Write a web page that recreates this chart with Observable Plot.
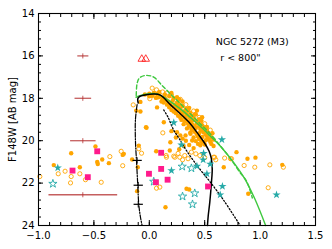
<!DOCTYPE html>
<html><head><meta charset="utf-8">
<script src="https://cdn.jsdelivr.net/npm/d3@7"></script>
<script src="https://cdn.jsdelivr.net/npm/@observablehq/plot@0.6"></script>
<style>body{margin:0;background:#fff} #chart svg{font-family:"DejaVu Sans",sans-serif}</style>
</head><body><div id="chart"></div><script>
// ---- data (color, magnitude) ----
const orangeFilled = [
  [-0.705,20.59],[-0.486,20.27],[-0.425,20.89],[-0.47,21.0],[-0.465,21.1],[-0.365,21.06],[-0.24,20.67],[-0.862,21.15],[-0.627,21.25],
  [-0.155,20.89],[-0.095,20.23],[-0.23,20.62],[-0.104,21.25],[-0.11,22.38],[-0.03,19.36],[-0.118,18.58],[-0.08,18.62],[-0.025,19.39],[-0.08,18.17],
  [-0.04,17.82],[0.0,17.78],[0.04,17.75],[0.07,17.8],
  [0.06,17.98],[0.1,17.92],[0.14,17.97],[0.18,17.9],[0.12,18.05],
  [0.13,18.2],[0.17,18.15],[0.21,18.12],[0.25,18.22],[0.19,18.25],
  [0.18,18.42],[0.22,18.38],[0.26,18.4],[0.3,18.35],[0.24,18.5],
  [0.22,18.62],[0.27,18.58],[0.31,18.62],[0.35,18.55],[0.29,18.7],
  [0.26,18.82],[0.3,18.8],[0.34,18.78],[0.38,18.82],[0.41,18.76],[0.32,18.9],
  [0.29,19.02],[0.33,19.0],[0.37,18.97],[0.41,19.03],[0.45,18.98],[0.35,19.1],
  [0.31,19.22],[0.35,19.2],[0.39,19.25],[0.43,19.18],[0.47,19.22],[0.41,19.32],
  [0.34,19.42],[0.38,19.45],[0.42,19.4],[0.46,19.45],[0.5,19.38],
  [0.37,19.62],[0.41,19.58],[0.45,19.65],[0.49,19.6],[0.53,19.62],
  [0.4,19.85],[0.44,19.8],[0.48,19.82],[0.52,19.78],[0.56,19.85],
  [0.42,20.02],[0.47,20.05],[0.51,19.98],[0.55,20.05],
  [0.46,20.22],[0.5,20.18],[0.58,20.25],
  [0.2,17.75],[0.25,17.95],[0.3,18.15],[0.36,18.45],[0.42,18.75],[0.47,19.05],[0.52,19.35],[0.57,19.65],
  [0.0,17.9],[0.08,17.95],[0.15,18.08],[0.23,18.3],[0.27,18.28],[0.33,18.5],[0.28,18.48],[0.24,18.7],[0.33,18.68],[0.37,18.68],
  [0.28,18.92],[0.36,18.88],[0.4,18.92],[0.44,19.1],[0.32,19.1],[0.38,19.12],[0.48,19.3],[0.36,19.32],[0.45,19.32],[0.39,19.5],
  [0.47,19.52],[0.52,19.5],[0.43,19.7],[0.51,19.7],[0.55,19.72],[0.45,19.92],[0.53,19.92],[0.58,19.95],[0.49,20.1],[0.56,20.15],
  [0.2,18.55],[0.16,18.3],[0.11,18.15],[0.03,17.88],[0.09,17.7],[0.14,17.82],[0.22,18.0],[0.27,18.05],
  [0.28,19.75],[0.33,20.0],[0.36,20.2],[0.4,20.35],[0.31,20.25],[0.24,19.85],[0.2,19.55],[0.27,20.4],
  [0.131,19.13],[0.19,20.07],[0.07,18.43],[0.327,19.75],[0.372,19.67],[0.387,19.99],[0.447,19.83],[0.25,19.6],[0.3,19.9],
  [0.062,20.5],[0.185,20.46],[0.44,20.15],[0.43,18.58],[0.477,18.89],
  [0.787,20.54],[0.958,20.8],[0.886,20.85],[1.2,21.14],[0.672,21.25],[0.893,22.5],
  [0.336,22.27],[0.36,22.3],[0.146,23.14]
];
const orangeOpen = [
  [-0.356,20.75],[-0.254,20.5],[-0.24,21.18],[-0.822,21.56],[-0.76,21.44],[-0.627,21.56],[-0.705,21.69],[-0.576,21.84],[-0.711,21.99],[-0.434,21.96],[-0.988,21.69],
  [-0.07,20.59],[-0.095,20.38],[-0.145,18.31],[0.026,17.52],[0.065,17.6],[0.005,18.02],[0.122,19.63],[0.095,22.19],[0.065,22.24],
  [0.152,20.7],[0.221,20.73],[0.155,20.78],[0.23,20.78],[0.275,20.78],[0.32,20.7],[0.35,20.85],[0.38,20.54],[0.456,20.7],[0.59,20.78],[0.6,20.9],[0.26,20.6],[0.42,20.62],[0.5,20.8],[0.3,20.9],
  [0.742,20.85],[0.856,21.17],[0.952,21.25],[1.088,21.14],[1.21,21.25],[1.073,22.22],[0.567,19.91],[0.58,20.78],[0.68,20.82],[0.733,20.85],
  [0.16,17.75],[0.2,17.85],[0.12,17.7],[0.28,18.05],[0.35,18.5],[0.4,18.6],[0.45,18.9],[0.5,19.2],[0.55,19.5],[0.33,18.3],[0.24,18.05]
];
const starsFilled = [[-0.826,21.28],[0.221,19.15],[0.29,20.2],[0.49,20.6],[0.655,19.95],[0.2,21.41],[0.43,21.2],[0.55,21.1],[0.52,21.56],[0.66,22.15],[0.64,22.55],[1.148,22.55],[0.486,20.9]];
const starsOpen = [[-0.87,22.03],[0.297,21.22],[0.38,21.3],[0.04,21.93],[0.3,22.63],[0.41,22.48],[0.39,23.0]];
const squares = [[-0.47,20.5],[-0.693,21.41],[-0.555,21.72],[0.107,20.57],[0.107,21.33],[-0.003,21.56],[0.06,21.96],[0.165,21.84],[0.53,22.16]];
const triangles = [[-0.068,16.15],[-0.032,16.15]];
// photometric error bars
const errRedX = [-0.6,-0.6,-0.6,-0.6];
const errRedY = [16,18,20,22.55];
const errRedXerr = [0.05,0.075,0.115,0.31];
const errBlkX = [-0.11,-0.1,-0.1];
const errBlkY = [20.93,22.1,23.0];
const errBlkXerr = [0.042,0.042,0.042];
// model curves
const isoSolid = [[-0.1,18.22],[-0.1,17.97],[0.04,17.8],[0.1,17.85],[0.19,18.3],[0.28,18.73],[0.37,19.2],[0.44,19.68],[0.5,20.12],[0.54,20.5],[0.56,20.85],[0.568,21.33],[0.561,21.96],[0.546,22.9],[0.532,23.53],[0.525,24.0]];
const isoDotted = [[0.13,18.55],[0.17,18.9],[0.22,19.5],[0.27,19.9],[0.34,20.5],[0.45,21.3],[0.55,21.95],[0.67,22.8],[0.82,24.0]];
const isoDashDot = [[-0.11,18.3],[-0.125,19.0],[-0.125,20.0],[-0.115,21.0],[-0.105,22.0],[-0.095,23.0],[-0.08,23.6],[-0.065,24.0]];
const greenSolid = [[-0.12,17.95],[-0.07,17.85],[0.0,17.78],[0.07,17.79],[0.14,17.98],[0.22,18.26],[0.3,18.58],[0.37,18.9],[0.456,19.3],[0.55,19.78],[0.636,20.23],[0.757,21.0],[0.862,21.8],[0.952,22.74],[1.05,24.0]];
const greenDashed = [[-0.118,17.87],[-0.11,17.3],[-0.09,17.05],[-0.034,16.92],[0.04,17.0],[0.116,17.4],[0.19,17.79],[0.28,18.25],[0.37,18.73],[0.45,19.15],[0.537,19.6],[0.65,20.3],[0.74,20.9],[0.817,21.49],[0.877,21.9],[0.93,22.7]];
const xMajor = [-1.0,-0.5,0.0,0.5,1.0,1.5];
const xMinor = d3.range(-10,16).map(i => i/10);
const yMajor = [14,16,18,20,22,24];
const yMinor = d3.range(0,26).map(i => 14 + i*0.4);
const annot = ["NGC 5272 (M3)", "r < 800\""];

const errRed = errRedX.map((x,i)=>({x, y: errRedY[i], e: errRedXerr[i]}));
const errBlk = errBlkX.map((x,i)=>({x, y: errBlkY[i], e: errBlkXerr[i]}));
const fmtX = d => d3.format(".1f")(d).replace("-", "\u2212");

const orange = "#ffa500", cyan = "#26aaa8", pink = "#ff1a8c", green = "#3ec83e";
const chart = Plot.plot({
  width: 332, height: 249,
  marginLeft: 38, marginRight: 17, marginTop: 13, marginBottom: 24,
  style: {fontSize: "10px", fontFamily: "DejaVu Sans, sans-serif", color: "#000"},
  x: {domain: [-1.0, 1.5]},
  y: {domain: [24, 14]},
  marks: [
    Plot.link(errRed, {x1: d=>d.x-d.e, x2: d=>d.x+d.e, y1: "y", y2: "y", stroke: "#b22a2a", strokeOpacity: 0.75, strokeWidth: 1.3}),
    Plot.link(errRed, {x1: "x", x2: "x", y1: d=>d.y-0.12, y2: d=>d.y+0.12, stroke: "#b22a2a", strokeOpacity: 0.75, strokeWidth: 1}),
    Plot.dot(triangles, {x: d=>d[0], y: d=>d[1], symbol: "triangle", r: 2.8, stroke: "#ff2020", strokeWidth: 0.9, fill: "none"}),
    Plot.dot(orangeOpen, {x: d=>d[0], y: d=>d[1], r: 2.1, stroke: orange, strokeWidth: 0.9, fill: "none"}),
    Plot.dot(orangeFilled, {x: d=>d[0], y: d=>d[1], r: 2.2, fill: orange}),
    Plot.line(greenDashed, {x: d=>d[0], y: d=>d[1], stroke: green, strokeWidth: 1.4, strokeDasharray: "4,2.5", curve: "catmull-rom"}),
    Plot.line(greenSolid, {x: d=>d[0], y: d=>d[1], stroke: green, strokeWidth: 1.4, curve: "catmull-rom"}),
    Plot.line(isoDotted, {x: d=>d[0], y: d=>d[1], stroke: "#000", strokeWidth: 1.3, strokeDasharray: "1.3,2", curve: "catmull-rom"}),
    Plot.line(isoDashDot, {x: d=>d[0], y: d=>d[1], stroke: "#000", strokeWidth: 1.2, strokeDasharray: "5,1.5,1.2,1.5", curve: "catmull-rom"}),
    Plot.line(isoSolid, {x: d=>d[0], y: d=>d[1], stroke: "#000", strokeWidth: 1.5, curve: "catmull-rom"}),
    Plot.link(errBlk, {x1: d=>d.x-d.e, x2: d=>d.x+d.e, y1: "y", y2: "y", stroke: "#000", strokeWidth: 1.2}),
    Plot.link(errBlk, {x1: "x", x2: "x", y1: d=>d.y-0.15, y2: d=>d.y+0.15, stroke: "#000", strokeWidth: 1}),
    Plot.dot(starsOpen, {x: d=>d[0], y: d=>d[1], symbol: "star", r: 2.6, stroke: cyan, strokeWidth: 0.9, fill: "none"}),
    Plot.dot(starsFilled, {x: d=>d[0], y: d=>d[1], symbol: "star", r: 2.6, fill: cyan}),
    Plot.dot(squares, {x: d=>d[0], y: d=>d[1], symbol: "square", r: 3.3, fill: pink}),
    Plot.text([annot[0]], {x: 0.6, y: 15.32, text: d=>d, textAnchor: "start", fontSize: 9.5}),
    Plot.text([annot[1]], {x: 0.64, y: 16.12, text: d=>d, textAnchor: "start", fontSize: 9.5}),
    Plot.axisX({ticks: xMajor, tickSize: 0, tickPadding: 6, tickFormat: fmtX, label: null}),
    Plot.axisY({ticks: yMajor, tickSize: 0, tickPadding: 4, tickFormat: d=>String(d), label: "F148W [AB mag]", labelAnchor: "center", labelArrow: "none", labelOffset: 30}),
    Plot.axisX({anchor: "bottom", ticks: xMajor, tickSize: -5, text: null, label: null}),
    Plot.axisX({anchor: "bottom", ticks: xMinor, tickSize: -3, text: null, label: null}),
    Plot.axisX({anchor: "top", ticks: xMajor, tickSize: -5, text: null, label: null}),
    Plot.axisX({anchor: "top", ticks: xMinor, tickSize: -3, text: null, label: null}),
    Plot.axisY({anchor: "left", ticks: yMajor, tickSize: -5, text: null, label: null}),
    Plot.axisY({anchor: "left", ticks: yMinor, tickSize: -3, text: null, label: null}),
    Plot.axisY({anchor: "right", ticks: yMajor, tickSize: -5, text: null, label: null}),
    Plot.axisY({anchor: "right", ticks: yMinor, tickSize: -3, text: null, label: null}),
    Plot.frame({stroke: "#000", strokeWidth: 1.1})
  ]
});
document.getElementById("chart").appendChild(chart);
</script></body></html>
